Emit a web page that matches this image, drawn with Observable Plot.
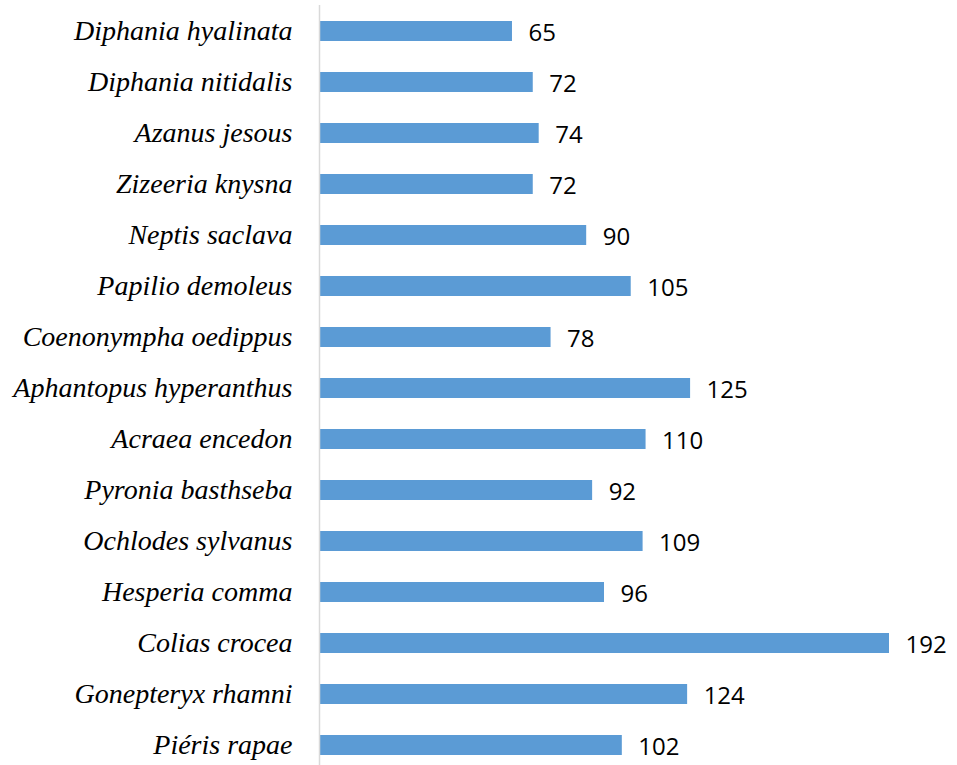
<!DOCTYPE html>
<html>
<head>
<meta charset="utf-8">
<script src="https://cdn.jsdelivr.net/npm/d3@7"></script>
<script src="https://cdn.jsdelivr.net/npm/@observablehq/plot@0.6"></script>
<style>
  html, body { margin: 0; padding: 0; background: #fff; overflow: hidden; }
  #chart svg { display: block; overflow: hidden; }
</style>
</head>
<body>
<div id="chart"></div>
<script>
const species = [
  "Diphania hyalinata",
  "Diphania nitidalis",
  "Azanus jesous",
  "Zizeeria knysna",
  "Neptis saclava",
  "Papilio demoleus",
  "Coenonympha oedippus",
  "Aphantopus hyperanthus",
  "Acraea encedon",
  "Pyronia basthseba",
  "Ochlodes sylvanus",
  "Hesperia comma",
  "Colias crocea",
  "Gonepteryx rhamni",
  "Piéris rapae"
];
const counts = [65, 72, 74, 72, 90, 105, 78, 125, 110, 92, 109, 96, 192, 124, 102];

const data = species.map((s, i) => ({species: s, count: counts[i]}));

const chart = Plot.plot({
  width: 957,
  height: 765,
  marginLeft: 319,
  marginRight: 68,
  marginTop: 5,
  marginBottom: -7,
  x: {domain: [0, 192], axis: null},
  y: {domain: species, paddingInner: 0.6, paddingOuter: 0.3, label: null},
  style: {background: "#fff"},
  marks: [
    Plot.barX(data, {y: "species", x: "count", fill: "#5b9bd5"}),
    Plot.ruleX([0], {stroke: "#d9d9d9", strokeWidth: 1.5}),
    Plot.axisY({
      tickSize: 0,
      tickPadding: 27,
      fontSize: 28,
      fontFamily: "Liberation Serif",
      fontStyle: "italic",
      fill: "#000",
      label: null
    }),
    Plot.text(data, {
      y: "species",
      x: "count",
      text: d => String(d.count),
      textAnchor: "start",
      dx: 16,
      dy: 2,
      fontSize: 24,
      fontFamily: "Open Sans",
      fill: "#000"
    })
  ]
});
document.getElementById("chart").append(chart);
</script>
</body>
</html>
